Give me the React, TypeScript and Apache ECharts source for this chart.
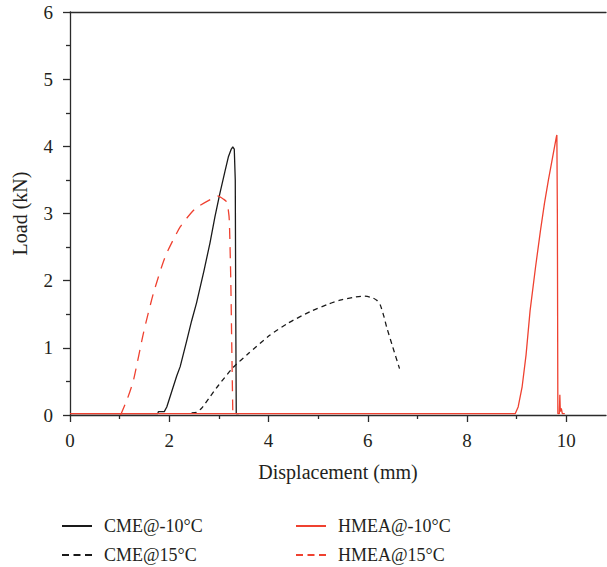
import React, { useEffect, useRef } from "react";
import * as echarts from "echarts";

const xMajorTicks = [0, 2, 4, 6, 8, 10];
const xMinorTicks = [1, 3, 5, 7, 9];

const seriesNames = ["CME@-10°C", "CME@15°C", "HMEA@15°C", "HMEA@-10°C"];

const cmeMinus10: [number, number][] = [
  [0, 0.02], [1.77, 0.02], [1.78, 0.05], [1.9, 0.05], [1.95, 0.12], [2.05, 0.35],
  [2.15, 0.58], [2.22, 0.72], [2.35, 1.1], [2.45, 1.4], [2.55, 1.67], [2.7, 2.15],
  [2.82, 2.56], [2.92, 2.95], [3.02, 3.3], [3.12, 3.62], [3.19, 3.84], [3.25, 3.96],
  [3.28, 3.99], [3.31, 3.96], [3.33, 3.5], [3.34, 1.5], [3.35, 0.02], [3.4, 0.02],
];

const cme15: [number, number][] = [
  [2.45, 0.03], [2.55, 0.04], [2.65, 0.1], [2.8, 0.25], [3.0, 0.45], [3.29, 0.71],
  [3.6, 0.92], [4.03, 1.19], [4.4, 1.37], [4.84, 1.54], [5.2, 1.65], [5.44, 1.71],
  [5.7, 1.75], [5.91, 1.77], [6.08, 1.75], [6.18, 1.71], [6.25, 1.64], [6.32, 1.48],
  [6.38, 1.31], [6.5, 1.02], [6.64, 0.69],
];

const hmea15: [number, number][] = [
  [1.02, 0.0], [1.16, 0.25], [1.28, 0.52], [1.48, 1.22], [1.68, 1.81], [1.92, 2.36],
  [2.22, 2.8], [2.52, 3.07], [2.86, 3.22], [2.99, 3.26], [3.1, 3.21], [3.16, 3.17],
  [3.19, 3.05], [3.21, 2.9], [3.24, 2.0], [3.26, 1.0], [3.28, 0.05],
];

const hmeaMinus10: [number, number][] = [
  [0, 0.02], [8.97, 0.02], [9.03, 0.12], [9.11, 0.42], [9.19, 0.9], [9.27, 1.55],
  [9.38, 2.2], [9.48, 2.75], [9.56, 3.15], [9.64, 3.5], [9.72, 3.82], [9.8, 4.14],
  [9.81, 4.17], [9.82, 3.0], [9.83, 0.02], [9.86, 0.02], [9.87, 0.3], [9.88, 0.05],
  [9.9, 0.1], [9.92, 0.02], [9.97, 0.02],
];

const BLACK = "#1a1a1a";
const RED = "#ef4130";
const AXIS = "#2b2b2b";
const TEXT = "#231f20";
const FONT = "'Liberation Serif', 'DejaVu Serif', serif";

export default function App() {
  const ref = useRef<HTMLDivElement>(null);
  useEffect(() => {
    if (!ref.current) return;
    const chart = echarts.init(ref.current, undefined, { renderer: "svg" });
    const legendText = { fontFamily: FONT, fontSize: 18, color: TEXT, padding: [0, 0, 0, 7] };
    const mkLegend = (name: string, left: number, top: number, dashed: boolean) => ({
      data: [name],
      left,
      top,
      itemWidth: 30,
      itemHeight: 14,
      textStyle: legendText,
      itemStyle: { opacity: 0 },
      lineStyle: dashed ? { type: [7, 4.5] } : {},
      padding: 0,
    });
    chart.setOption({
      animation: false,
      grid: { left: 70, right: 1, top: 12, bottom: 152, containLabel: false },
      legend: [
        mkLegend(seriesNames[0], 61, 517, false),
        mkLegend(seriesNames[3], 295, 517, false),
        mkLegend(seriesNames[1], 61, 546, true),
        mkLegend(seriesNames[2], 295, 546, true),
      ],
      xAxis: [
        {
          type: "value",
          min: 0,
          max: 10.8,
          interval: 2,
          position: "bottom",
          name: "Displacement (mm)",
          nameLocation: "middle",
          nameGap: 47,
          nameTextStyle: { fontFamily: FONT, fontSize: 20, color: TEXT },
          axisLine: { show: true, onZero: false, lineStyle: { color: AXIS, width: 1.3 } },
          axisTick: { show: true, inside: false, length: 7, customValues: xMajorTicks, lineStyle: { color: AXIS, width: 1.3 } },
          axisLabel: { margin: 16, customValues: xMajorTicks, fontFamily: FONT, fontSize: 19, color: TEXT },
          splitLine: { show: false },
        },
        {
          type: "value",
          min: 0,
          max: 10.8,
          position: "bottom",
          axisLine: { show: false, onZero: false },
          axisTick: { show: true, inside: false, length: 4, customValues: xMinorTicks, lineStyle: { color: AXIS, width: 1.3 } },
          axisLabel: { show: false },
          splitLine: { show: false },
        },
        {
          type: "value",
          min: 0,
          max: 10.8,
          position: "top",
          axisLine: { show: true, onZero: false, lineStyle: { color: AXIS, width: 1.3 } },
          axisTick: { show: false },
          axisLabel: { show: false },
          splitLine: { show: false },
        },
      ],
      yAxis: {
        type: "value",
        min: 0,
        max: 6,
        interval: 1,
        name: "Load (kN)",
        nameLocation: "middle",
        nameGap: 40,
        nameTextStyle: { fontFamily: FONT, fontSize: 20, color: TEXT },
        axisLine: { show: true, onZero: false, lineStyle: { color: AXIS, width: 1.3 } },
        axisTick: { show: true, inside: false, length: 7, lineStyle: { color: AXIS, width: 1.3 } },
        minorTick: { show: true, splitNumber: 2, length: 4, lineStyle: { color: AXIS, width: 1.3 } },
        axisLabel: { margin: 17, fontFamily: FONT, fontSize: 19, color: TEXT },
        splitLine: { show: false },
      },
      series: [
        {
          name: seriesNames[0], type: "line", data: cmeMinus10, symbol: "none", xAxisIndex: 0,
          lineStyle: { color: BLACK, width: 1.3, type: "solid" }, itemStyle: { color: BLACK },
        },
        {
          name: seriesNames[1], type: "line", data: cme15, symbol: "none", xAxisIndex: 0, smooth: 0.2,
          lineStyle: { color: BLACK, width: 1.3, type: [5, 4] }, itemStyle: { color: BLACK },
        },
        {
          name: seriesNames[2], type: "line", data: hmea15, symbol: "none", xAxisIndex: 0, smooth: 0.2,
          lineStyle: { color: RED, width: 1.3, type: [11, 8] }, itemStyle: { color: RED },
        },
        {
          name: seriesNames[3], type: "line", data: hmeaMinus10, symbol: "none", xAxisIndex: 0,
          lineStyle: { color: RED, width: 1.3, type: "solid" }, itemStyle: { color: RED },
        },
      ],
    });
    return () => chart.dispose();
  }, []);
  return <div ref={ref} style={{ width: 607, height: 567, position: "absolute", left: 0, top: 0 }} />;
}
